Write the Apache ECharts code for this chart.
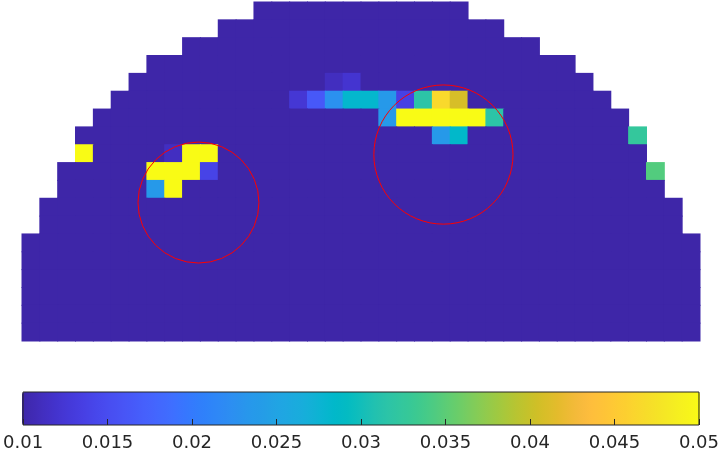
<!DOCTYPE html>
<html>
<head>
<meta charset="utf-8">
<script src="https://cdn.jsdelivr.net/npm/echarts@6/dist/echarts.min.js"></script>
<style>
html,body{margin:0;padding:0;background:#fff;}
#chart{width:722px;height:455px;}
</style>
</head>
<body>
<div id="chart"></div>
<script>
// grid size (columns x rows)
const nCols = 38;
const nRows = 19;
// filled column span [first, last] for each row, top to bottom
const rowSpans = [
  [13,24],[11,26],[9,28],[7,30],[6,31],[5,32],[4,33],[3,34],[3,34],
  [2,35],[2,35],[1,36],[1,36],
  [0,37],[0,37],[0,37],[0,37],[0,37],[0,37]
];
// background cell value
const baseValue = 0.01;
// non-background cells: [column, row, value]
const hotCells = [
  [17,4,0.0112],[18,4,0.0122],
  [15,5,0.0125],[16,5,0.0163],[17,5,0.0227],[18,5,0.0281],[19,5,0.0281],
  [20,5,0.0237],[21,5,0.0138],[22,5,0.0316],[23,5,0.0465],[24,5,0.0408],
  [20,6,0.0237],[21,6,0.05],[22,6,0.05],[23,6,0.05],[24,6,0.05],[25,6,0.05],[26,6,0.0316],
  [23,7,0.0237],[24,7,0.0284],[34,7,0.0325],
  [3,8,0.05],[8,8,0.0113],[9,8,0.05],[10,8,0.05],
  [7,9,0.05],[8,9,0.05],[9,9,0.05],[10,9,0.014],[35,9,0.0345],
  [7,10,0.0237],[8,10,0.05]
];
// colour scale range and ticks
const colorMin = 0.01;
const colorMax = 0.05;
const colorTickStep = 0.005;
// annotation circles: [centerCol, centerRow, radius] in cell units
const circles = [
  [9.89, 11.24, 3.39],
  [23.62, 8.55, 3.9]
];

const parula = ['#3E26A8','#402AB4','#422EC0','#4332CB','#4537D5','#463CDE','#4741E5','#4747EB',
'#484DF0','#4852F4','#4758F8','#465EFB','#4563FD','#4269FE','#3E6FFF','#3875FE','#327CFC','#2F81FA',
'#2E87F7','#2D8CF3','#2B91EF','#2797EB','#259BE8','#23A0E5','#20A5E3','#1CA9DF','#18ADDB','#12B1D6',
'#08B5D0','#01B8CA','#02BAC3','#0BBDBD','#19BFB6','#24C1AE','#2CC4A7','#31C69F','#37C897','#3FCA8E',
'#4ACB84','#57CC7A','#64CD6F','#72CD64','#81CC59','#8FCB4E','#9DC943','#ABC739','#B9C431','#C5C22A',
'#D1BF27','#DCBD29','#E6BB2D','#F0BA36','#F8BA3D','#FEBE3C','#FEC338','#FEC934','#FCCF30','#FAD62D',
'#F7DC2A','#F5E327','#F5E924','#F6EF20','#F7F51B','#F9FB15'];

// build cell data
const hotMap = {};
hotCells.forEach(c => { hotMap[c[0] + ',' + c[1]] = c[2]; });
const cellData = [];
rowSpans.forEach((span, r) => {
  for (let c = span[0]; c <= span[1]; c++) {
    const k = c + ',' + r;
    cellData.push([c, r, hotMap[k] !== undefined ? hotMap[k] : baseValue]);
  }
});
const colCats = Array.from({length: nCols}, (_, i) => String(i));
const rowCats = Array.from({length: nRows}, (_, i) => String(i));

const textColor = '#262626';
const chart = echarts.init(document.getElementById('chart'), null, {renderer: 'canvas'});
chart.setOption({
  animation: false,
  backgroundColor: '#ffffff',
  grid: [
    {left: 22, top: 2, width: 678, height: 339},
    {left: 22, top: 392, width: 678, height: 33, show: true, borderColor: textColor, borderWidth: 1, backgroundColor: 'transparent', z: 10},
    {left: 22, top: 2, width: 678, height: 339}
  ],
  xAxis: [
    {gridIndex: 0, type: 'category', data: colCats, show: false},
    {gridIndex: 1, type: 'value', min: colorMin, max: colorMax, interval: colorTickStep, z: 10,
     axisLine: {show: false}, splitLine: {show: false},
     axisTick: {show: true, inside: true, length: 6, lineStyle: {color: textColor, width: 1}},
     axisLabel: {color: textColor, fontSize: 18, fontFamily: 'DejaVu Sans', margin: 9, showMinLabel: true, showMaxLabel: true,
       formatter: v => String(+v.toFixed(4))}},
    {gridIndex: 2, type: 'value', min: 0, max: nCols, show: false}
  ],
  yAxis: [
    {gridIndex: 0, type: 'category', data: rowCats, inverse: true, show: false},
    {gridIndex: 1, type: 'value', min: 0, max: 1, show: false},
    {gridIndex: 2, type: 'value', min: 0, max: nRows, inverse: true, show: false}
  ],
  visualMap: {
    type: 'continuous',
    seriesIndex: 0,
    dimension: 2,
    min: colorMin, max: colorMax,
    orient: 'horizontal',
    left: 22, top: 392,
    padding: 0,
    itemWidth: 33, itemHeight: 678,
    calculable: false,
    hoverLink: false,
    text: null,
    showLabel: false,
    inRange: {color: parula}
  },
  series: [
    {
      type: 'custom',
      xAxisIndex: 0, yAxisIndex: 0,
      data: cellData,
      encode: {x: 0, y: 1},
      renderItem: function (params, api) {
        const p = api.coord([api.value(0), api.value(1)]);
        const s = api.size([1, 1]);
        return {
          type: 'rect',
          shape: {x: p[0] - s[0] / 2 - 0.5, y: p[1] - s[1] / 2 - 0.5, width: s[0] + 1, height: s[1] + 1},
          style: {fill: api.visual('color'), stroke: null}
        };
      },
      z: 2
    },
    {
      type: 'custom',
      xAxisIndex: 2, yAxisIndex: 2,
      clip: false,
      data: circles,
      encode: {x: 0, y: 1},
      renderItem: function (params, api) {
        const p = api.coord([api.value(0), api.value(1)]);
        const s = api.size([api.value(2) * 2, api.value(2) * 2]);
        return {
          type: 'circle',
          shape: {cx: p[0], cy: p[1], r: s[0] / 2},
          style: {fill: 'none', stroke: '#ff0000', lineWidth: 1}
        };
      },
      z: 5
    }
  ]
});
</script>
</body>
</html>
